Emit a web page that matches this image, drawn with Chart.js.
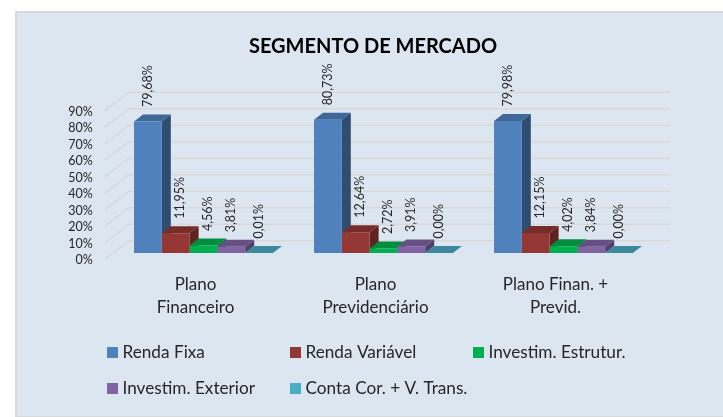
<!DOCTYPE html>
<html><head><meta charset="utf-8">
<script src="https://cdn.jsdelivr.net/npm/chart.js@4"></script>
<style>
html,body{margin:0;padding:0;background:#fff;width:723px;height:417px;overflow:hidden}
#panel{position:absolute;left:15px;top:11px;width:760px;height:406px;box-sizing:border-box;background:#DCE6F1;border:solid #D9D9D9;border-width:2px 0 1px 2px}
#wrap{position:absolute;left:16px;top:12px;width:714px;height:405px}
canvas{display:block}
</style></head><body>
<div id="panel"></div>
<div id="wrap"><canvas id="c" width="714" height="405"></canvas></div>
<script>
const categories = [["Plano","Financeiro"],["Plano","Previdenciário"],["Plano Finan. +","Previd."]];
const seriesNames = ["Renda Fixa","Renda Variável","Investim. Estrutur.","Investim. Exterior","Conta Cor. + V. Trans."];
const rendaFixa = [79.68,80.73,79.98];
const rendaVariavel = [11.95,12.64,12.15];
const investEstrutur = [4.56,2.72,4.02];
const investExterior = [3.81,3.91,3.84];
const contaCorrente = [0.01,0.00,0.00];
const frontColors = ["#4F81BD","#953735","#00B050","#8064A2","#4BACC6"];
const topColors = ["#3F6797","#772C2A","#008D40","#664F82","#3C899E"];
const sideColors = ["#2F4D71","#5F2322","#006F32","#503F66","#2F6B7C"];
const FONT = "Lato";
const TXT = "#262626";
const depthX = 9, depthY = -7;
const labelNudge = [0,4,4,0,0];

const fmt = v => v.toFixed(2).replace('.',',') + '%';

const draw3d = {
  id:'draw3d',
  afterLayout(chart){
    if(chart.titleBlock){chart.titleBlock.left=0;chart.titleBlock.right=chart.width;}
  },
  beforeDatasetsDraw(chart){
    const {ctx,scales:{y},chartArea:a} = chart;
    ctx.save();
    ctx.strokeStyle="#D9D9D9"; ctx.lineWidth=1.6;
    y.ticks.forEach(t=>{
      const py=y.getPixelForValue(t.value);
      ctx.beginPath();
      ctx.moveTo(a.left-8.5,py+6);
      ctx.lineTo(a.left+15.5,py-12.3);
      ctx.lineTo(a.right+16.5,py-12.3);
      ctx.stroke();
    });
    chart.data.datasets.forEach((ds,i)=>{
      chart.getDatasetMeta(i).data.forEach(bar=>{
        const l=bar.x-bar.width/2,r=bar.x+bar.width/2,t=bar.y,b=bar.base;
        ctx.fillStyle=sideColors[i];
        ctx.beginPath();ctx.moveTo(r,t);ctx.lineTo(r+depthX,t+depthY);ctx.lineTo(r+depthX,b+depthY);ctx.lineTo(r,b);ctx.closePath();ctx.fill();
        ctx.fillStyle=topColors[i];
        ctx.beginPath();ctx.moveTo(l,t);ctx.lineTo(l+depthX,t+depthY);ctx.lineTo(r+depthX,t+depthY);ctx.lineTo(r,t);ctx.closePath();ctx.fill();
      });
    });
    ctx.restore();
  },
  afterDatasetsDraw(chart){
    const {ctx}=chart;
    ctx.save();
    chart.data.datasets.forEach((ds,i)=>{
      chart.getDatasetMeta(i).data.forEach((bar,j)=>{
        ctx.save();
        ctx.translate(bar.x+labelNudge[i],bar.y+depthY-7.5);
        ctx.rotate(-Math.PI/2);
        ctx.font=`12.5px ${FONT}`;ctx.fillStyle=TXT;ctx.textAlign='left';ctx.textBaseline='middle';
        ctx.fillText(fmt(ds.data[j]),0,0);
        ctx.restore();
      });
    });
    const colX=[91,274,457], rowY=[340.5,376.5];
    ctx.font=`17.2px ${FONT}`;ctx.textBaseline='middle';ctx.textAlign='left';
    chart.data.datasets.forEach((ds,i)=>{
      const x=colX[i%3], yy=rowY[Math.floor(i/3)];
      ctx.fillStyle=frontColors[i];ctx.fillRect(x,yy-5.5,11,11);
      ctx.fillStyle=TXT;ctx.fillText(ds.label,x+15.5,yy);
    });
    ctx.restore();
  }
};

new Chart(document.getElementById('c'),{
  type:'bar',
  data:{labels:categories,datasets:[rendaFixa,rendaVariavel,investEstrutur,investExterior,contaCorrente].map((d,i)=>({
    label:seriesNames[i],data:d,backgroundColor:frontColors[i],borderWidth:0,
    categoryPercentage:0.772,barPercentage:1
  }))},
  options:{
    responsive:false,animation:false,
    layout:{padding:{left:0,right:76.5,top:0,bottom:0}},
    plugins:{
      legend:{display:false},tooltip:{enabled:false},
      title:{display:true,text:"SEGMENTO DE MERCADO",color:"#000",font:{family:FONT,size:20,weight:'bold'},padding:{top:23,bottom:45.5}}
    },
    scales:{
      x:{grid:{display:false},border:{display:false},
        afterFit(s){s.height=164;},
        ticks:{color:TXT,font:{family:FONT,size:17,lineHeight:1.35},padding:12,labelOffset:-8,maxRotation:0,autoSkip:false}},
      y:{min:0,max:90,grid:{display:false},border:{display:false},
        afterFit(s){s.width=97.5;},
        ticks:{stepSize:10,autoSkip:false,color:TXT,font:{family:FONT,size:12.5},padding:12.8,labelOffset:7,callback:v=>v+'%'}}
    }
  },
  plugins:[draw3d]
});
</script></body></html>
